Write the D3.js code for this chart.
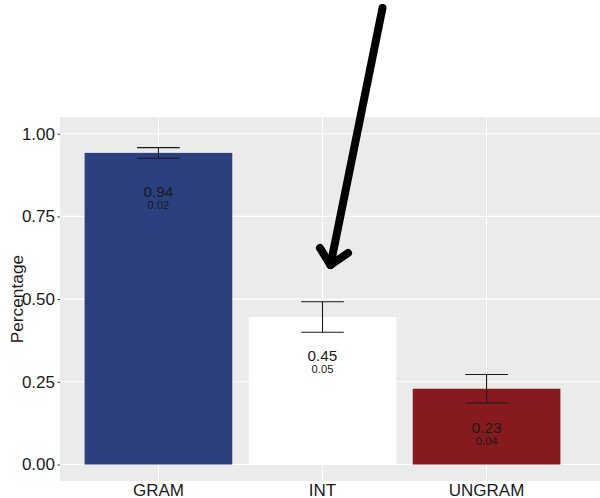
<!DOCTYPE html>
<html>
<head>
<meta charset="utf-8">
<script src="https://cdn.jsdelivr.net/npm/d3@7"></script>
<style>
  html, body { margin: 0; padding: 0; background: #ffffff; }
  svg { display: block; font-family: "Liberation Sans", Arial, Helvetica, sans-serif; }
</style>
</head>
<body>
<svg id="chart" width="600" height="498"></svg>
<script>
// Proportion judged acceptable per sentence type, with standard error
const categories = ["GRAM", "INT", "UNGRAM"];
const means = [0.942, 0.446, 0.229];
const errors = [0.016, 0.046, 0.043];
const barColors = ["#2C3F7E", "#FFFFFF", "#861A1E"];
const yTicks = [0, 0.25, 0.5, 0.75, 1.0];

const svg = d3.select("#chart");

const x = d3.scaleBand()
  .domain(categories)
  .range([60, 585])
  .paddingInner(0.1)
  .paddingOuter(0.15);

const y = d3.scaleLinear()
  .domain([0, 1])
  .range([464.5, 133.7]);

const panel = { left: 60, right: 600, top: y(1.05), bottom: y(-0.05) };

// Panel background
svg.append("rect")
  .attr("x", panel.left)
  .attr("y", panel.top)
  .attr("width", panel.right - panel.left)
  .attr("height", panel.bottom - panel.top)
  .attr("fill", "#EBEBEB");

// Major grid lines
svg.append("g").selectAll("line.h")
  .data(yTicks).join("line")
  .attr("x1", panel.left).attr("x2", panel.right)
  .attr("y1", d => y(d)).attr("y2", d => y(d))
  .attr("stroke", "#FFFFFF").attr("stroke-width", 1.1);

svg.append("g").selectAll("line.v")
  .data(categories).join("line")
  .attr("x1", d => x(d) + x.bandwidth() / 2)
  .attr("x2", d => x(d) + x.bandwidth() / 2)
  .attr("y1", panel.top).attr("y2", panel.bottom)
  .attr("stroke", "#FFFFFF").attr("stroke-width", 1.1);

// Bars
const rows = categories.map((c, i) => ({ cat: c, mean: means[i], err: errors[i], color: barColors[i] }));

svg.append("g").selectAll("rect")
  .data(rows).join("rect")
  .attr("x", d => x(d.cat))
  .attr("width", x.bandwidth())
  .attr("y", d => y(d.mean))
  .attr("height", d => y(0) - y(d.mean))
  .attr("fill", d => d.color);

// Error bars
const capHalf = x.step() * 0.13;
const eb = svg.append("g").attr("stroke", "#1A1A1A").attr("stroke-width", 1.1);
rows.forEach(d => {
  const cx = x(d.cat) + x.bandwidth() / 2;
  eb.append("line").attr("x1", cx).attr("x2", cx)
    .attr("y1", y(d.mean + d.err)).attr("y2", y(d.mean - d.err));
  eb.append("line").attr("x1", cx - capHalf).attr("x2", cx + capHalf)
    .attr("y1", y(d.mean + d.err)).attr("y2", y(d.mean + d.err));
  eb.append("line").attr("x1", cx - capHalf).attr("x2", cx + capHalf)
    .attr("y1", y(d.mean - d.err)).attr("y2", y(d.mean - d.err));
});

// Value labels inside bars
const fmt = d3.format(".2f");
const labels = svg.append("g").attr("text-anchor", "middle").attr("fill", "#1A1A1A");
labels.selectAll("text.mean")
  .data(rows).join("text")
  .attr("x", d => x(d.cat) + x.bandwidth() / 2)
  .attr("y", d => y(d.mean) + 44.5)
  .attr("font-size", 15.3)
  .text(d => fmt(d.mean));
labels.selectAll("text.err")
  .data(rows).join("text")
  .attr("x", d => x(d.cat) + x.bandwidth() / 2)
  .attr("y", d => y(d.mean) + 56.5)
  .attr("font-size", 11.2)
  .text(d => fmt(d.err));

// Y axis
const yAxis = svg.append("g")
  .attr("transform", `translate(${panel.left},0)`)
  .call(d3.axisLeft(y).tickValues(yTicks).tickFormat(d3.format(".2f")).tickSize(2.5).tickPadding(2.5));
yAxis.select(".domain").remove();
yAxis.selectAll(".tick line").attr("stroke", "#333333");
yAxis.selectAll(".tick text")
  .attr("fill", "#1A1A1A")
  .attr("font-size", 17)
  .attr("font-family", "Liberation Sans, Arial, sans-serif");

// X axis
const xAxis = svg.append("g")
  .attr("transform", `translate(0,${panel.bottom})`)
  .call(d3.axisBottom(x).tickSize(0).tickPadding(2.5));
xAxis.select(".domain").remove();
xAxis.selectAll(".tick text")
  .attr("fill", "#1A1A1A")
  .attr("font-size", 17)
  .attr("font-family", "Liberation Sans, Arial, sans-serif");

// Y axis title
svg.append("text")
  .attr("transform", `translate(23,${(panel.top + panel.bottom) / 2}) rotate(-90)`)
  .attr("text-anchor", "middle")
  .attr("fill", "#1A1A1A")
  .attr("font-size", 17.3)
  .text("Percentage");

// Hand-drawn arrow pointing at the INT bar
const tipX = x("INT") + x.bandwidth() / 2 + 8;
const tipY = y(0.603);
const arrow = svg.append("g")
  .attr("fill", "none")
  .attr("stroke", "#000000")
  .attr("stroke-width", 8)
  .attr("stroke-linecap", "round")
  .attr("stroke-linejoin", "round");
arrow.append("line")
  .attr("x1", tipX + 52).attr("y1", 8)
  .attr("x2", tipX).attr("y2", tipY);
arrow.append("path")
  .attr("d", `M${tipX - 10.5},${tipY - 17} L${tipX},${tipY} L${tipX + 17.5},${tipY - 12}`);
</script>
</body>
</html>
